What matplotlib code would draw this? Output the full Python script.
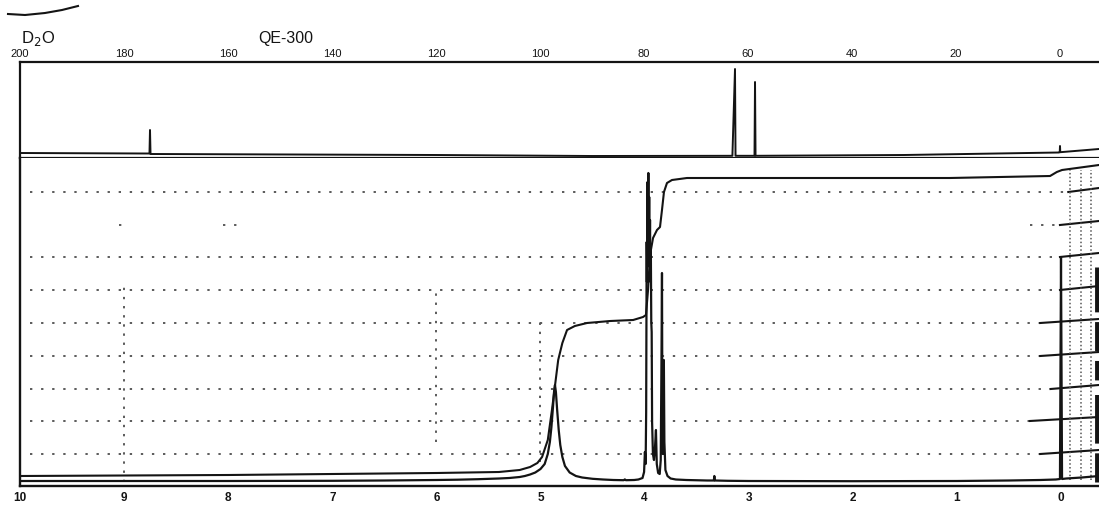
import matplotlib
matplotlib.use("Agg")
import matplotlib.pyplot as plt
from matplotlib.lines import Line2D

plt.rcParams['font.family'] = ['Liberation Sans', 'DejaVu Sans']

# ---------------- data ----------------
# 13C spectrum (ppm, height)
c_ppm = [200.0, 176.0, 175.1, 175.0, 174.9, 120.0, 90.0, 63.0, 62.5, 62.4,
         58.75, 58.65, 58.55, 30.0, 0.2, 0.05, 0.0, -0.05, -7.5]
c_int = [1.0, 0.5, 0.5, 24.0, 0.0, -1.0, -2.0, -1.8, 85.0, -1.8,
         -1.8, 72.0, -1.8, -1.0, 1.5, 1.8, 8.0, 1.8, 5.0]
c_ticks = [200, 180, 160, 140, 120, 100, 80, 60, 40, 20, 0]

# 1H spectrum (ppm, height)
h_ppm = [10.0, 9.0, 8.0, 7.0, 6.5, 6.0, 5.8, 5.6, 5.4, 5.3, 5.2, 5.15, 5.1,
         5.05, 5.0, 4.96, 4.93, 4.91, 4.895, 4.88, 4.87, 4.861, 4.852, 4.84,
         4.825, 4.81, 4.79, 4.765, 4.72, 4.66, 4.6, 4.5, 4.4, 4.3, 4.2, 4.19,
         4.18, 4.1, 4.06, 4.02, 4.005, 3.997, 3.99, 3.985, 3.98, 3.977, 3.972,
         3.968, 3.964, 3.96, 3.956, 3.952, 3.948, 3.944, 3.94, 3.936, 3.932,
         3.928, 3.92, 3.91, 3.90, 3.891, 3.883, 3.87, 3.855, 3.845, 3.838,
         3.833, 3.829, 3.824, 3.82, 3.815, 3.81, 3.80, 3.78, 3.75, 3.7, 3.6,
         3.4, 3.335, 3.33, 3.325, 3.2, 3.0, 2.0, 1.0, 0.5, 0.2, 0.05, 0.01,
         0.0, -0.01, -0.05, -0.2, -0.365]
h_int = [1.0, 1.0, 1.0, 1.2, 1.5, 2.0, 2.3, 2.8, 3.5, 4.0, 5.0, 6.0, 7.5,
         9.5, 13.0, 18.0, 28.0, 40.0, 55.0, 75.0, 90.0, 97.0, 90.0, 72.0,
         52.0, 37.0, 25.0, 16.0, 9.5, 6.0, 4.5, 3.2, 2.5, 2.0, 1.8, 2.6,
         1.8, 2.0, 2.5, 4.0, 10.0, 30.0, 18.0, 70.0, 240.0, 200.0, 300.0,
         230.0, 309.0, 220.0, 285.0, 215.0, 262.0, 200.0, 232.0, 160.0, 150.0,
         60.0, 28.0, 22.0, 35.0, 52.0, 18.0, 9.0, 8.0, 22.0, 120.0,
         209.0, 60.0, 28.0, 80.0, 122.0, 40.0, 12.0, 6.0, 3.5, 2.5, 2.0,
         1.5, 1.5, 6.0, 1.5, 1.2, 1.0, 0.8, 1.0, 1.5, 2.0, 2.5, 3.0,
         225.0, 3.0, 3.5, 4.5, 6.0]

# 1H integral trace (ppm, height)
int_ppm = [10.0, 8.0, 6.0, 5.4, 5.2, 5.1, 5.03, 4.985, 4.93, 4.89, 4.86,
           4.83, 4.79, 4.745, 4.67, 4.553, 4.33, 4.11, 4.015, 3.987, 3.967,
           3.948, 3.919, 3.90, 3.881, 3.852, 3.833, 3.814, 3.785, 3.737,
           3.593, 2.51, 1.07, 0.105, 0.04, -0.01, -0.365]
int_val = [6, 7, 9, 10, 12, 15, 19, 25, 42, 72, 97,
           122, 139, 152, 156, 159, 161, 162, 165, 167, 192,
           227, 244, 248, 252, 255, 272, 290, 299, 302,
           304, 304, 304, 306, 310, 312, 317]
h_ticks = [10, 9, 8, 7, 6, 5, 4, 3, 2, 1, 0]

# chart-paper reference rows (height) and where their solid right part starts (ppm)
grid_rows = [290, 257, 225, 192, 159, 126, 93, 61, 28]
grid_solid_from = [-0.07, 0.01, 0.01, 0.01, 0.2, 0.2, 0.1, 0.3, 0.2]

ink = '#141414'
W, H = 1099, 531

fig = plt.figure(figsize=(W / 100, H / 100), dpi=100)
fig.patch.set_facecolor('white')

# ---------------- 13C panel ----------------
ax_c = fig.add_axes([20 / W, 1 - 158 / H, 1079 / W, 96 / H])
ax_c.plot(c_ppm, c_int, color=ink, lw=1.4)
ax_c.set_xlim(200, 200 - 1079 / 5.2)
ax_c.set_ylim(-4, 92)
for s in ['top', 'left', 'bottom']:
    ax_c.spines[s].set_linewidth(1.6)
    ax_c.spines[s].set_color(ink)
ax_c.spines['right'].set_visible(False)
ax_c.set_yticks([])
ax_c.xaxis.tick_top()
ax_c.set_xticks(c_ticks)
ax_c.set_xticklabels([str(t) for t in c_ticks])
ax_c.tick_params(axis='x', length=0, pad=2, labelsize=8, colors=ink)

# ---------------- 1H panel ----------------
ax_h = fig.add_axes([20 / W, 1 - 486 / H, 1079 / W, 328 / H])
ax_h.set_xlim(10, 10 - 1079 / 104.1)
ax_h.set_ylim(-4, 324)

dot = (0, (1.2, 4.5))
gridc = '#5a5a5a'
for gy, gs in zip(grid_rows, grid_solid_from):
    if gy == 257:
        for a, b in [(9.05, 8.95), (8.05, 7.85), (0.3, gs)]:
            ax_h.plot([a, b], [gy, gy], color=gridc, lw=1.4, ls=dot)
    else:
        ax_h.plot([9.9, gs], [gy, gy], color=gridc, lw=1.4, ls=dot)
    ax_h.plot([gs, -0.365], [gy, gy + 4], color=ink, lw=1.5)

for vx, lo, hi in [(9.0, 0, 195), (6.0, 40, 195), (5.0, 20, 160)]:
    ax_h.plot([vx, vx], [lo, hi], color=gridc, lw=1.4, ls=(0, (1.2, 3.5)))
for vx in [-0.09, -0.19, -0.29]:
    ax_h.plot([vx, vx], [2, 312], color='#555555', lw=1.1, ls=(0, (1, 1.5)))

ax_h.plot(int_ppm, int_val, color=ink, lw=1.5)
ax_h.plot(h_ppm, h_int, color=ink, lw=1.6)
ax_h.plot([-0.345, -0.345], [0, 215], color=ink, lw=3.5, ls=(0, (6, 2, 10, 3, 4, 2)))

for s in ['left', 'bottom']:
    ax_h.spines[s].set_linewidth(1.7)
    ax_h.spines[s].set_color(ink)
ax_h.spines['top'].set_visible(False)
ax_h.spines['right'].set_visible(False)
ax_h.set_yticks([])
ax_h.set_xticks(h_ticks)
ax_h.set_xticklabels([str(t) for t in h_ticks], fontweight='bold')
ax_h.tick_params(axis='x', length=0, pad=4, labelsize=8.5, colors=ink)

# ---------------- annotations ----------------
fig.text(21 / W, 1 - 43 / H, 'D$_2$O', fontsize=12, color=ink, ha='left', va='baseline')
fig.text(258 / W, 1 - 43 / H, 'QE-300', fontsize=11.5, color=ink, ha='left', va='baseline')
sx = [8, 25, 45, 62, 78]
sy = [14, 15, 13, 10, 6]
fig.add_artist(Line2D([x / W for x in sx], [1 - y / H for y in sy], color=ink, lw=1.5))

fig.savefig('out.png', dpi=100, facecolor='white')
